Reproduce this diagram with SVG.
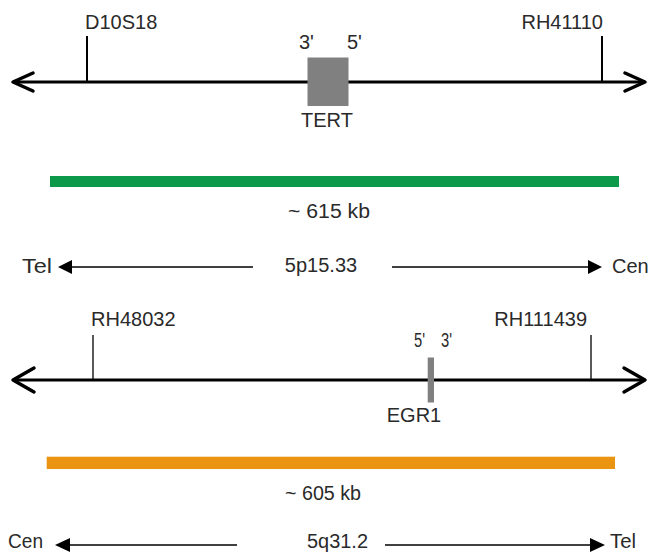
<svg xmlns="http://www.w3.org/2000/svg" width="648" height="553" viewBox="0 0 648 553">
<style>
text{font-family:"Liberation Sans",Arial,sans-serif;fill:#2a2a2a;font-size:20px}
.chrom{stroke:#000;stroke-width:3;fill:none}
.tick2{stroke:#000;stroke-width:2}
.tick1{stroke:#000;stroke-width:1.3}
.open{stroke:#000;stroke-width:3.5;fill:none;stroke-linecap:round;stroke-linejoin:round}
.thin{stroke:#000;stroke-width:1.5}
.head{fill:#000}
</style>
<rect width="648" height="553" fill="#fff"/>
<g id="connectors">
<line class="chrom" x1="14" y1="82" x2="644" y2="82"/>
<polyline class="open" points="33,73 13,82 33,91"/>
<polyline class="open" points="625,73 645,82 625,91"/>
<line class="chrom" x1="14" y1="380" x2="644" y2="380"/>
<polyline class="open" points="34,368 13,380 34,392"/>
<polyline class="open" points="624,368 645,380 624,392"/>
<line class="thin" x1="70" y1="267" x2="253" y2="267"/>
<polygon class="head" points="58,267 72,260 72,274"/>
<line class="thin" x1="392" y1="267" x2="590" y2="267"/>
<polygon class="head" points="602,267 588,260 588,274"/>
<line class="thin" x1="68" y1="545" x2="237" y2="545"/>
<polygon class="head" points="55,545 70,538 70,552"/>
<line class="thin" x1="385" y1="545" x2="592" y2="545"/>
<polygon class="head" points="605,545 590,538 590,552"/>
</g>
<g id="D10S18">
<line class="tick2" x1="87" y1="36" x2="87" y2="82"/>
<text x="85" y="29">D10S18</text>
</g>
<g id="RH41110">
<line class="tick2" x1="602" y1="36" x2="602" y2="82"/>
<text x="603" y="29" text-anchor="end">RH41110</text>
</g>
<g id="TERT">
<rect x="307.5" y="57.5" width="41" height="48.5" fill="#808080"/>
<text x="299" y="49" font-size="19">3'</text>
<text x="347" y="49" font-size="19">5'</text>
<text x="327" y="127" text-anchor="middle">TERT</text>
</g>
<g id="bar615">
<rect x="50" y="176" width="569" height="11" fill="#0C9A4A"/>
<text x="329" y="218" text-anchor="middle" textLength="82" lengthAdjust="spacingAndGlyphs">~ 615 kb</text>
</g>
<g id="labels5p">
<text x="22" y="273" textLength="30" lengthAdjust="spacingAndGlyphs">Tel</text>
<text x="321" y="272" text-anchor="middle">5p15.33</text>
<text x="612" y="273">Cen</text>
</g>
<g id="RH48032">
<line class="tick1" x1="93" y1="335" x2="93" y2="380"/>
<text x="91" y="326">RH48032</text>
</g>
<g id="RH111439">
<line class="tick1" x1="591" y1="335" x2="591" y2="380"/>
<text x="587" y="326" text-anchor="end">RH111439</text>
</g>
<g id="EGR1">
<rect x="427.7" y="357.5" width="6.3" height="45" fill="#808080"/>
<text x="414" y="347" font-size="19" textLength="11" lengthAdjust="spacingAndGlyphs">5'</text>
<text x="441" y="347" font-size="19" textLength="11" lengthAdjust="spacingAndGlyphs">3'</text>
<text x="414" y="422" text-anchor="middle">EGR1</text>
</g>
<g id="bar605">
<rect x="46.7" y="456.7" width="568.3" height="12.3" fill="#EB9411"/>
<text x="285" y="500" textLength="76" lengthAdjust="spacingAndGlyphs">~ 605  kb</text>
</g>
<g id="labels5q">
<text x="8" y="548" textLength="35" lengthAdjust="spacingAndGlyphs">Cen</text>
<text x="307" y="548" textLength="61" lengthAdjust="spacingAndGlyphs">5q31.2</text>
<text x="610" y="548" textLength="26" lengthAdjust="spacingAndGlyphs">Tel</text>
</g>
</svg>
